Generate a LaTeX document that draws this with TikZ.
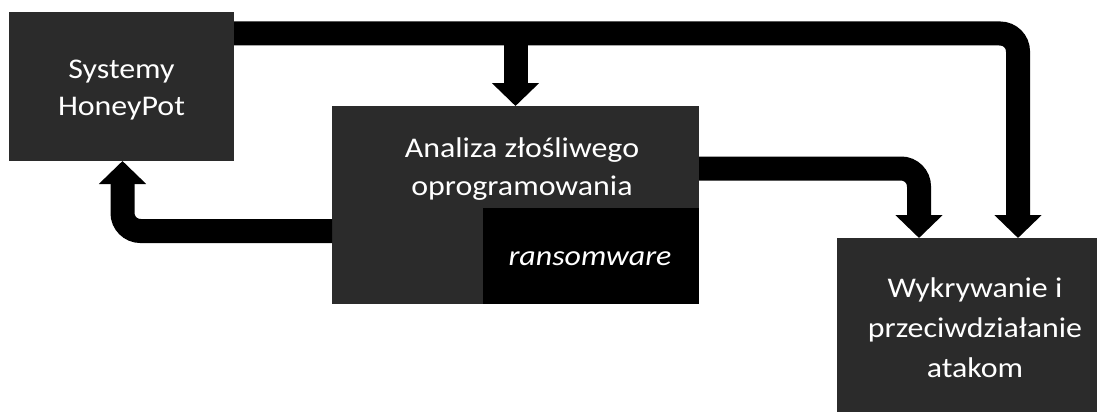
\documentclass[tikz,border=0pt]{standalone}
\usepackage{fontspec}
\setmainfont{Carlito}[FakeStretch=1.12]
\usetikzlibrary{arrows.meta}
\definecolor{boxgray}{HTML}{2B2B2B}
\tikzset{
  box/.style={rectangle, fill=boxgray, draw=none, inner sep=0pt, outer sep=0pt},
  blackbox/.style={rectangle, fill=black, draw=none, inner sep=0pt, outer sep=0pt},
  lbl/.style={text=white, anchor=base, inner sep=0pt, font=\fontsize{28.5}{34}\selectfont},
  flow/.style={line width=24pt, draw=black, rounded corners=18pt,
    -{Triangle[width=46pt,length=23pt]}},
}
\begin{document}
\begin{tikzpicture}[x=1pt,y=1pt]
\useasboundingbox (0,0) rectangle (1102,-412);
% boxes
\node[box, minimum width=225pt, minimum height=149pt] (hp) at (121.5,-86.5) {};
\node[box, minimum width=367pt, minimum height=198pt] (an) at (515.5,-205) {};
\node[blackbox, minimum width=216pt, minimum height=96pt] (rw) at (591,-256) {};
\node[box, minimum width=260pt, minimum height=174pt] (wk) at (967,-325) {};
% texts
\node[lbl] (hp1) at (121.5,-78) {Systemy};
\node[lbl] (hp2) at (121.5,-115) {HoneyPot};
\node[lbl] (an1) at (522,-157) {Analiza złośliwego};
\node[lbl] (an2) at (522,-195) {oprogramowania};
\node[lbl] (rw1) at (590,-265) {\itshape ransomware};
\node[lbl] (wk1) at (975,-297) {Wykrywanie i};
\node[lbl] (wk2) at (975,-337) {przeciwdziałanie};
\node[lbl] (wk3) at (975,-377) {atakom};
% connectors
\coordinate (j) at (515.5,-33.5);
\draw[flow] (hp.east |- 0,-33.5) -- (1018,-33.5) -- (1018,-33.5 |- wk.north);
\draw[line width=24pt, draw=black, -{Triangle[width=46pt,length=23pt]}] (j) -- (an.north);
\draw[flow] (an.east |- 0,-168.5) -- (919,-168.5) -- (919,-168.5 |- wk.north);
\draw[flow] (an.west |- 0,-231) -- (122.5,-231) -- (122.5,-231 |- hp.south);
\end{tikzpicture}
\end{document}
